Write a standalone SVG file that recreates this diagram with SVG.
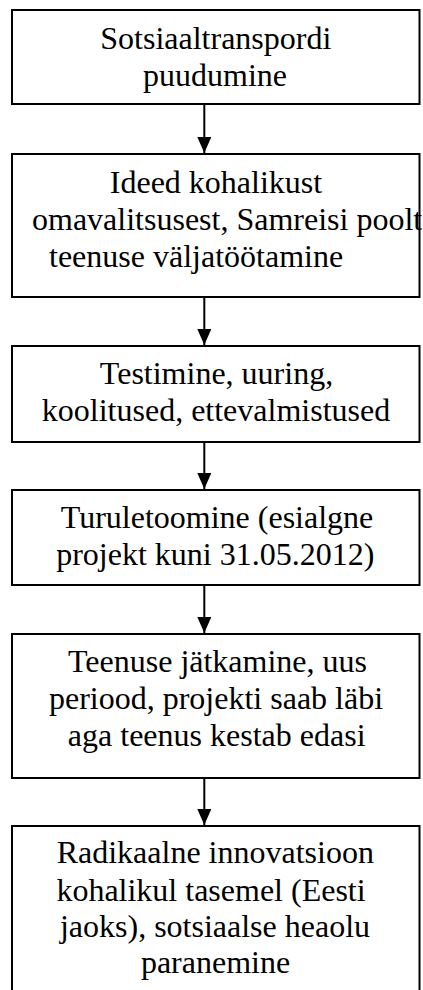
<svg xmlns="http://www.w3.org/2000/svg" width="423" height="990" viewBox="0 0 423 990">
<style>
  .box { fill: #ffffff; stroke: #000000; stroke-width: 2; }
  .t { font-family: "Liberation Serif", "Times New Roman", serif; font-size: 32px; fill: #000000; text-anchor: middle; }
  .s { text-anchor: start; }
  .conn { stroke: #000000; stroke-width: 2; fill: none; marker-end: url(#arrow); }
</style>
<defs>
  <marker id="arrow" markerUnits="userSpaceOnUse" markerWidth="16" markerHeight="14" viewBox="0 -7 16 14" refX="16" refY="0" orient="auto">
    <path d="M0,-7 L16,0 L0,7 Z" fill="#000000"/>
  </marker>
</defs>
<rect width="423" height="990" fill="#ffffff"/>
<g id="connectors">
  <line class="conn" x1="204.3" y1="105" x2="204.3" y2="153"/>
  <line class="conn" x1="204.3" y1="298" x2="204.3" y2="345"/>
  <line class="conn" x1="204.3" y1="443" x2="204.3" y2="489"/>
  <line class="conn" x1="204.3" y1="586" x2="204.3" y2="633"/>
  <line class="conn" x1="204.3" y1="779" x2="204.3" y2="825"/>
</g>
<g id="n1">
  <rect class="box" x="12" y="10" width="407.5" height="94"/>
  <text class="t" x="215.8" y="49.3">Sotsiaaltranspordi</text>
  <text class="t" x="215" y="86">puudumine</text>
</g>
<g id="n2">
  <rect class="box" x="12" y="154" width="407.5" height="143"/>
  <text class="t" x="216" y="192.7">Ideed kohalikust</text>
  <text class="t s" x="32" y="230">omavalitsusest, Samreisi poolt</text>
  <text class="t s" x="49" y="266.7">teenuse väljatöötamine</text>
</g>
<g id="n3">
  <rect class="box" x="12" y="346" width="407.5" height="96"/>
  <text class="t" x="216.5" y="384.3">Testimine, uuring,</text>
  <text class="t" x="216" y="420.7">koolitused, ettevalmistused</text>
</g>
<g id="n4">
  <rect class="box" x="12" y="490" width="407.5" height="95"/>
  <text class="t" x="217" y="528.3">Turuletoomine (esialgne</text>
  <text class="t" x="215.3" y="565">projekt kuni 31.05.2012)</text>
</g>
<g id="n5">
  <rect class="box" x="12" y="634" width="407.5" height="144"/>
  <text class="t" x="217.5" y="671.7">Teenuse jätkamine, uus</text>
  <text class="t" x="216" y="709.3">periood, projekti saab läbi</text>
  <text class="t" x="216.7" y="746">aga teenus kestab edasi</text>
</g>
<g id="n6">
  <rect class="box" x="12" y="826" width="407.5" height="180"/>
  <text class="t" x="215.3" y="863.3">Radikaalne innovatsioon</text>
  <text class="t" x="211" y="900.7">kohalikul tasemel (Eesti</text>
  <text class="t" x="215" y="937.3">jaoks), sotsiaalse heaolu</text>
  <text class="t" x="215.5" y="973.3">paranemine</text>
</g>
</svg>
